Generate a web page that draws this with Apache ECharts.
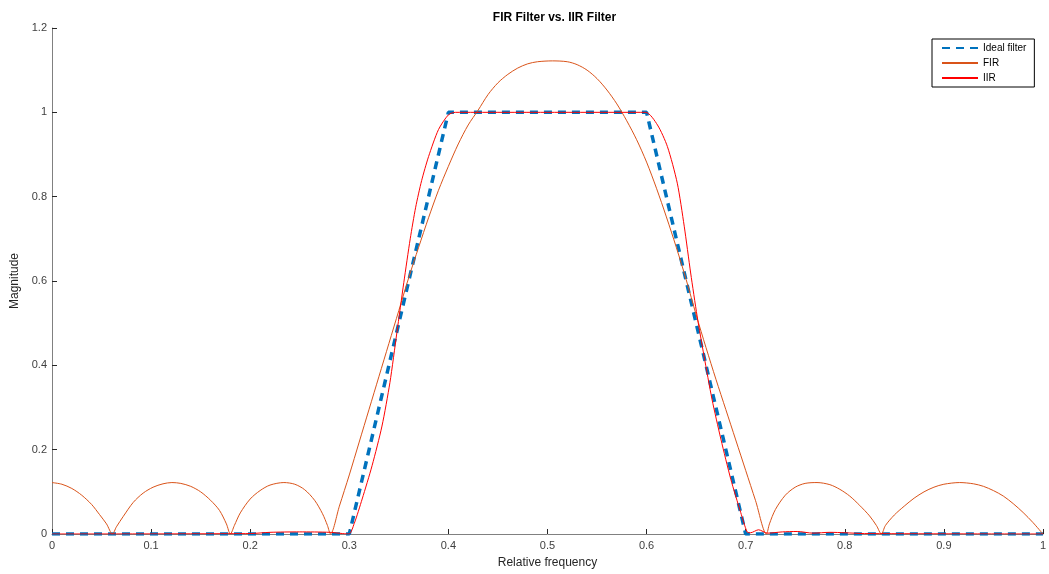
<!DOCTYPE html>
<html>
<head>
<meta charset="utf-8">
<script src="https://cdn.jsdelivr.net/npm/echarts@6/dist/echarts.min.js"></script>
<style>
html,body{margin:0;padding:0;background:#fff;}
#chart{width:1049px;height:574px;}
</style>
</head>
<body>
<div id="chart"></div>
<script>
// Ideal filter
const idealX = [0, 0.3, 0.4, 0.6, 0.7, 1.0];
const idealY = [0, 0, 1, 1, 0, 0];

// FIR response
const firX = [0, 0.01, 0.02, 0.03, 0.04, 0.048, 0.055, 0.061,
  0.065, 0.072, 0.082, 0.092, 0.102, 0.112, 0.121, 0.13, 0.14, 0.15, 0.16, 0.169, 0.176, 0.18,
  0.184, 0.19, 0.2, 0.21, 0.22, 0.234, 0.245, 0.255, 0.265, 0.273, 0.278, 0.281,
  0.29, 0.30, 0.31, 0.32, 0.33, 0.34, 0.35, 0.36, 0.37, 0.38, 0.39, 0.40, 0.41, 0.42, 0.43,
  0.44, 0.45, 0.46, 0.47, 0.48, 0.49, 0.505, 0.52, 0.53, 0.54, 0.55, 0.56, 0.57, 0.58, 0.59,
  0.60, 0.61, 0.62, 0.63, 0.64, 0.65, 0.66, 0.67, 0.68, 0.69, 0.70, 0.71, 0.721,
  0.724, 0.73, 0.74, 0.75, 0.76, 0.772, 0.785, 0.795, 0.805, 0.815, 0.825, 0.832, 0.837,
  0.841, 0.85, 0.86, 0.87, 0.88, 0.89, 0.90, 0.916, 0.93, 0.94, 0.95, 0.96, 0.97, 0.98, 0.99, 1.0];
const firY = [0.122, 0.118, 0.108, 0.092, 0.07, 0.046, 0.024, 0,
  0.017, 0.042, 0.075, 0.097, 0.111, 0.119, 0.122, 0.12, 0.113, 0.1, 0.08, 0.056, 0.024, 0,
  0.02, 0.05, 0.083, 0.103, 0.116, 0.122, 0.118, 0.105, 0.08, 0.048, 0.02, 0,
  0.066, 0.14, 0.218, 0.296, 0.374, 0.452, 0.53, 0.608, 0.68, 0.75, 0.815, 0.872, 0.925, 0.97, 1.005,
  1.042, 1.07, 1.09, 1.105, 1.115, 1.12, 1.122, 1.12, 1.113, 1.1, 1.08, 1.053, 1.02, 0.98, 0.935,
  0.882, 0.82, 0.752, 0.68, 0.603, 0.52, 0.442, 0.367, 0.295, 0.223, 0.151, 0.079, 0,
  0.024, 0.058, 0.092, 0.111, 0.12, 0.122, 0.117, 0.106, 0.09, 0.068, 0.043, 0.02, 0,
  0.02, 0.045, 0.066, 0.085, 0.1, 0.111, 0.118, 0.122, 0.119, 0.113, 0.103, 0.09, 0.072, 0.051, 0.027, 0];

// IIR response
const iirX = [0, 0.2, 0.22, 0.25, 0.28, 0.2995, 0.305, 0.313, 0.323, 0.333, 0.341, 0.348,
  0.355, 0.3615, 0.367, 0.373, 0.380, 0.390, 0.400, 0.407, 0.45, 0.55, 0.599,
  0.611, 0.621, 0.631, 0.638, 0.6445, 0.651, 0.658, 0.666, 0.675, 0.685, 0.695, 0.7015,
  0.705, 0.713, 0.722, 0.737, 0.752, 0.768, 0.785, 0.80, 0.82, 1.0];
const iirY = [0, 0.001, 0.004, 0.005, 0.004, 0, 0.025, 0.083, 0.162, 0.256, 0.359, 0.477,
  0.596, 0.700, 0.775, 0.838, 0.895, 0.959, 0.994, 1.0, 1.0, 1.0, 1.0,
  0.970, 0.919, 0.832, 0.730, 0.619, 0.517, 0.422, 0.320, 0.225, 0.130, 0.051, 0.005,
  0.003, 0.010, 0.002, 0.005, 0.006, 0.002, 0.004, 0.003, 0.001, 0];

const seriesNames = ['Ideal filter', 'FIR', 'IIR'];
const xTicks = [0, 0.1, 0.2, 0.3, 0.4, 0.5, 0.6, 0.7, 0.8, 0.9, 1];
const yTicks = [0, 0.2, 0.4, 0.6, 0.8, 1, 1.2];

function zip(xs, ys) { return xs.map((x, i) => [x, ys[i]]); }

const font = '"Liberation Sans", Arial, Helvetica, sans-serif';
const chart = echarts.init(document.getElementById('chart'), null, {renderer: 'canvas'});
chart.setOption({
  animation: false,
  backgroundColor: '#ffffff',
  title: {
    text: 'FIR Filter vs. IIR Filter',
    left: 549.5, top: 7, textAlign: 'center',
    textStyle: {fontFamily: font, fontSize: 12, fontWeight: 'bold', color: '#000'}
  },
  legend: {
    orient: 'vertical',
    left: 932, top: 39,
    backgroundColor: '#fff',
    borderColor: '#000', borderWidth: 1,
    padding: [4, 8, 4, 9],
    itemWidth: 36, itemHeight: 10, itemGap: 5,
    itemStyle: {opacity: 0},
    textStyle: {fontFamily: font, fontSize: 10, color: '#000'},
    data: seriesNames
  },
  grid: {left: 52, right: 2, top: 28, bottom: 39, containLabel: false},
  xAxis: {
    type: 'value', min: 0, max: 1, interval: 0.1,
    name: 'Relative frequency', nameLocation: 'middle', nameGap: 23,
    nameTextStyle: {fontFamily: font, fontSize: 12, color: '#262626'},
    axisLine: {show: true, lineStyle: {color: '#808080', width: 1}},
    axisTick: {show: true, inside: true, length: 5, lineStyle: {color: '#262626'}},
    axisLabel: {fontFamily: font, fontSize: 11, color: '#404040', margin: 6,
      formatter: v => String(+v.toFixed(1))},
    splitLine: {show: false}
  },
  yAxis: {
    type: 'value', min: 0, max: 1.2, interval: 0.2,
    name: 'Magnitude', nameLocation: 'middle', nameGap: 28,
    nameTextStyle: {fontFamily: font, fontSize: 12, color: '#262626'},
    axisLine: {show: true, lineStyle: {color: '#808080', width: 1}},
    axisTick: {show: true, inside: true, length: 5, lineStyle: {color: '#262626'}},
    axisLabel: {fontFamily: font, fontSize: 11, color: '#404040', margin: 5,
      formatter: v => String(+v.toFixed(1))},
    splitLine: {show: false}
  },
  series: [
    {
      name: seriesNames[0], type: 'line', data: zip(idealX, idealY),
      symbol: 'none', z: 2,
      lineStyle: {color: '#0072BD', width: 3.5, type: [8, 6]},
      itemStyle: {color: '#0072BD'}
    },
    {
      name: seriesNames[1], type: 'line', data: zip(firX, firY),
      symbol: 'none', smooth: 0.3, z: 3,
      lineStyle: {color: '#D95319', width: 1},
      itemStyle: {color: '#D95319'}
    },
    {
      name: seriesNames[2], type: 'line', data: zip(iirX, iirY),
      symbol: 'none', smooth: 0.25, z: 4,
      lineStyle: {color: '#FF0000', width: 1},
      itemStyle: {color: '#FF0000'}
    }
  ]
});
</script>
</body>
</html>
